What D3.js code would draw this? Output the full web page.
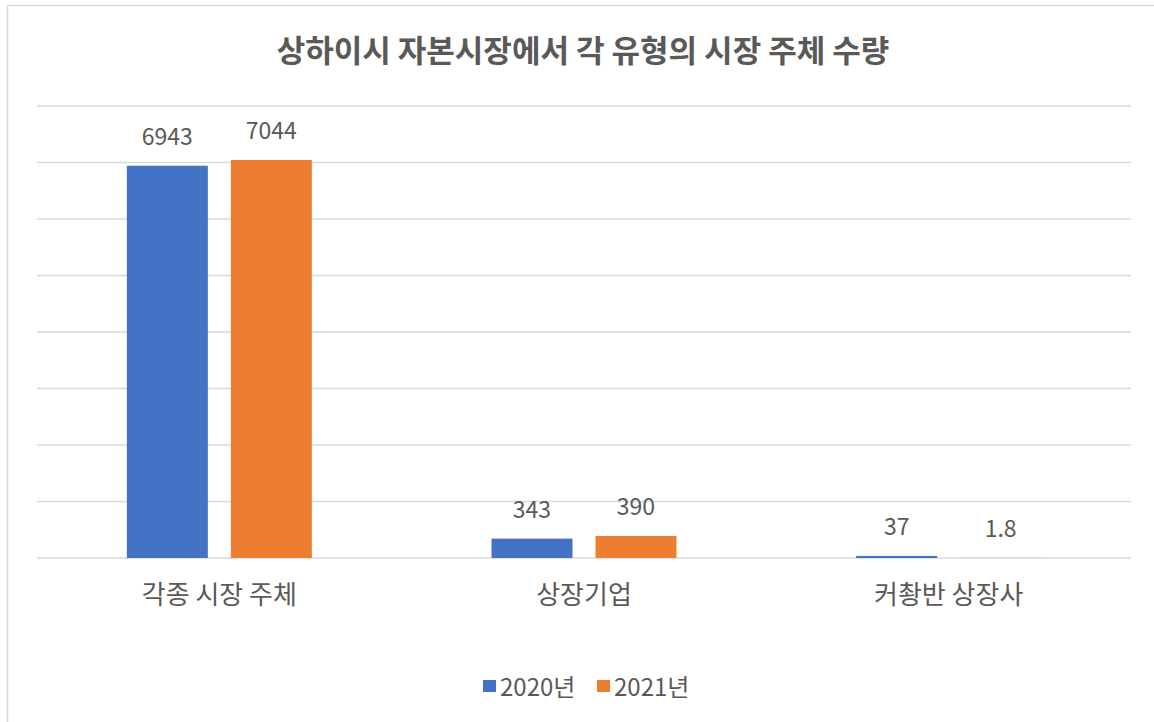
<!DOCTYPE html>
<html>
<head>
<meta charset="utf-8">
<script src="https://cdn.jsdelivr.net/npm/d3@7"></script>
<style>
  body { margin: 0; background: #fff; }
  svg { display: block; font-family: "Noto Sans CJK KR", "Noto Sans", sans-serif; }
</style>
</head>
<body>
<svg id="chart" width="1154" height="722"></svg>
<script>
const categories = ["각종 시장 주체", "상장기업", "커촹반 상장사"]
const series_names = ["2020년", "2021년"]
const values_2020 = [6943, 343, 37]
const values_2021 = [7044, 390, 1.8]
const y_ticks = [0, 1000, 2000, 3000, 4000, 5000, 6000, 7000, 8000]
const colors = ["#4472c4", "#ed7d31"]

const svg = d3.select("#chart")
const text_color = "#595959"

// chart frame
svg.append("rect")
    .attr("x", 7.5).attr("y", 5.5)
    .attr("width", 1160).attr("height", 730)
    .attr("fill", "#fff")
    .attr("stroke", "#d9d9d9")
    .attr("stroke-width", 1.5)

svg.append("text")
    .attr("x", 583).attr("y", 62)
    .attr("text-anchor", "middle")
    .attr("font-size", 31)
    .attr("font-weight", "bold")
    .attr("fill", text_color)
    .text("상하이시 자본시장에서 각 유형의 시장 주체 수량")

const plot_left = 37, plot_right = 1131, plot_top = 106, plot_bottom = 558

const x = d3.scaleBand().domain(categories).range([plot_left, plot_right])
const y = d3.scaleLinear().domain([0, 8000]).range([plot_bottom, plot_top])

// gridlines
svg.append("g").selectAll("line")
    .data(y_ticks)
    .join("line")
    .attr("x1", plot_left).attr("x2", plot_right)
    .attr("y1", d => y(d)).attr("y2", d => y(d))
    .attr("stroke", "#d9d9d9")
    .attr("stroke-width", 1.5)

// two bars of 81px with a 23px gap, centred in each category band
const group_w = 185
const inner = d3.scaleBand().domain([0, 1]).range([0, group_w]).paddingInner(23 / 104)

const rows = []
categories.forEach((c, i) => {
    rows.push({cat: c, s: 0, v: values_2020[i]})
    rows.push({cat: c, s: 1, v: values_2021[i]})
})

const bar_x = d => x(d.cat) + (x.bandwidth() - group_w) / 2 + inner(d.s)

svg.append("g").selectAll("rect")
    .data(rows)
    .join("rect")
    .attr("x", bar_x)
    .attr("y", d => y(d.v))
    .attr("width", inner.bandwidth())
    .attr("height", d => plot_bottom - y(d.v))
    .attr("fill", d => colors[d.s])

// data labels
svg.append("g").selectAll("text")
    .data(rows)
    .join("text")
    .attr("x", d => bar_x(d) + inner.bandwidth() / 2)
    .attr("y", d => y(d.v) - 21)
    .attr("text-anchor", "middle")
    .attr("font-size", 23)
    .attr("fill", text_color)
    .text(d => d.v)

// category labels
svg.append("g").selectAll("text")
    .data(categories)
    .join("text")
    .attr("x", d => x(d) + x.bandwidth() / 2)
    .attr("y", 604)
    .attr("text-anchor", "middle")
    .attr("font-size", 26)
    .attr("fill", text_color)
    .text(d => d)

// legend
const legend = svg.append("g")
const legend_x = [483, 597]
series_names.forEach((name, i) => {
    legend.append("rect")
        .attr("x", legend_x[i]).attr("y", 680)
        .attr("width", 13).attr("height", 12)
        .attr("fill", colors[i])
    legend.append("text")
        .attr("x", legend_x[i] + 17).attr("y", 696)
        .attr("font-size", 24)
        .attr("fill", text_color)
        .text(name)
})
</script>
</body>
</html>
